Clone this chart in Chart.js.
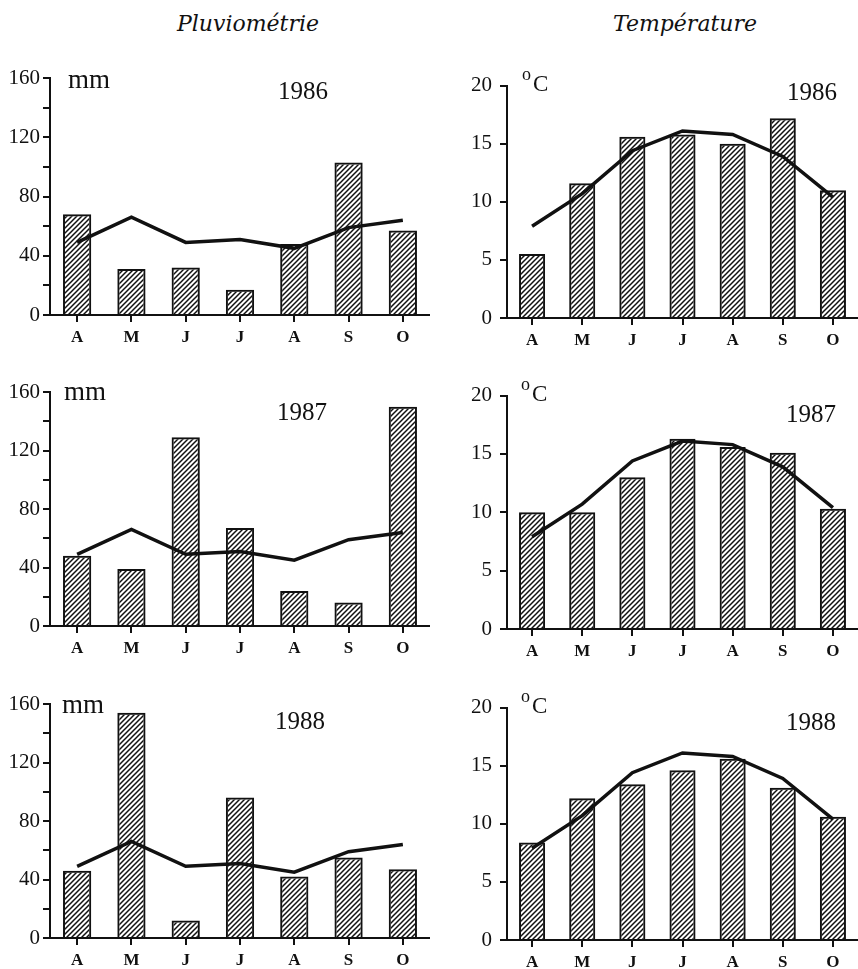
<!DOCTYPE html>
<html>
<head>
<meta charset="utf-8">
<script src="https://cdn.jsdelivr.net/npm/chart.js@4.4.1/dist/chart.umd.min.js"></script>
<style>
  body { margin: 0; background: #fff; width: 858px; height: 969px; position: relative; overflow: hidden; }
  .panel { position: absolute; }
  .title { position: absolute; top: 11px; width: 220px; text-align: center;
           font-family: "DejaVu Serif", serif; font-style: italic; font-size: 22px; color: #111; }
</style>
</head>
<body>
<div class="title" style="left:138px">Pluviométrie</div>
<div class="title" style="left:575px">Température</div>

<script>
// Data
const months = ["A", "M", "J", "J", "A", "S", "O"];
const years = ["1986", "1987", "1988"];

const rain1986 = [68, 31, 32, 17, 48, 103, 57];
const rain1987 = [48, 39, 129, 67, 24, 16, 150];
const rain1988 = [46, 154, 12, 96, 42, 55, 47];
const rainMean = [49, 66, 49, 51, 45, 59, 64];

const temp1986 = [5.5, 11.6, 15.6, 15.8, 15.0, 17.2, 11.0];
const temp1987 = [10.0, 10.0, 13.0, 16.3, 15.6, 15.1, 10.3];
const temp1988 = [8.4, 12.2, 13.4, 14.6, 15.6, 13.1, 10.6];
const tempMean = [7.9, 10.7, 14.4, 16.1, 15.8, 13.9, 10.4];

const rainTicks = { max: 160, step: 20, labelEvery: 40 };
const tempTicks = { max: 20, step: 5, labelEvery: 5 };

// Panel placement: yTop = pixel of axis max, yZero = pixel of 0
const panels = [
    { bars: rain1986, mean: rainMean, kind: "rain", year: years[0], left: 0,   width: 430, yTop: 78,  yZero: 315, unitDx: 18, unitDy: 3,  yearDx: 228, yearDy: 14 },
    { bars: temp1986, mean: tempMean, kind: "temp", year: years[0], left: 430, width: 428, yTop: 85,  yZero: 318, unitDx: 15, unitDy: -2, yearDx: 280, yearDy: 8 },
    { bars: rain1987, mean: rainMean, kind: "rain", year: years[1], left: 0,   width: 430, yTop: 392, yZero: 626, unitDx: 14, unitDy: 1,  yearDx: 227, yearDy: 21 },
    { bars: temp1987, mean: tempMean, kind: "temp", year: years[1], left: 430, width: 428, yTop: 395, yZero: 629, unitDx: 14, unitDy: -2, yearDx: 279, yearDy: 20 },
    { bars: rain1988, mean: rainMean, kind: "rain", year: years[2], left: 0,   width: 430, yTop: 704, yZero: 938, unitDx: 12, unitDy: 2,  yearDx: 225, yearDy: 18 },
    { bars: temp1988, mean: tempMean, kind: "temp", year: years[2], left: 430, width: 428, yTop: 707, yZero: 940, unitDx: 14, unitDy: -2, yearDx: 279, yearDy: 16 },
];

const TOP_PAD = 20;
const X_AXIS_H = 38;
const INK = "#111";
const serif = "'Liberation Serif', 'Times New Roman', serif";

// Diagonal hatching for the bars
function makeHatch() {
    const s = 5;
    const c = document.createElement("canvas");
    c.width = s; c.height = s;
    const g = c.getContext("2d");
    g.strokeStyle = INK;
    g.lineWidth = 1.5;
    g.beginPath();
    g.moveTo(0, s); g.lineTo(s, 0);
    g.moveTo(-1, 1); g.lineTo(1, -1);
    g.moveTo(s - 1, s + 1); g.lineTo(s + 1, s - 1);
    g.stroke();
    return g.createPattern(c, "repeat");
}
const hatch = makeHatch();

// Unit and year labels
const labelsPlugin = {
    id: "panelLabels",
    afterDraw(chart) {
        const p = chart.options.plugins.panelLabels;
        const { ctx, chartArea } = chart;
        ctx.save();
        ctx.fillStyle = INK;
        ctx.textBaseline = "middle";
        ctx.textAlign = "left";
        const ux = chartArea.left + p.unitDx;
        const uy = chartArea.top + p.unitDy;
        if (p.kind === "rain") {
            ctx.font = "27px " + serif;
            ctx.fillText("mm", ux, uy);
        } else {
            ctx.font = "18px " + serif;
            ctx.fillText("o", ux, uy - 8);
            ctx.font = "23px " + serif;
            ctx.fillText("C", ux + 11, uy + 1);
        }
        ctx.font = "25px " + serif;
        ctx.fillText(p.year, chartArea.left + p.yearDx, chartArea.top + p.yearDy);
        ctx.restore();
    }
};

function makePanel(p) {
    const canvas = document.createElement("canvas");
    const h = (p.yZero - p.yTop) + TOP_PAD + X_AXIS_H;
    canvas.className = "panel";
    canvas.width = p.width;
    canvas.height = h;
    canvas.style.left = p.left + "px";
    canvas.style.top = (p.yTop - TOP_PAD) + "px";
    canvas.style.width = p.width + "px";
    canvas.style.height = h + "px";
    document.body.appendChild(canvas);

    const t = p.kind === "rain" ? rainTicks : tempTicks;
    const axisW = p.kind === "rain" ? 50 : 77;

    return new Chart(canvas.getContext("2d"), {
        type: "bar",
        data: {
            labels: months,
            datasets: [
                {
                    type: "line",
                    data: p.mean,
                    borderColor: INK,
                    borderWidth: 3.5,
                    pointRadius: 0,
                    tension: 0,
                    order: 0
                },
                {
                    type: "bar",
                    data: p.bars,
                    backgroundColor: hatch,
                    borderColor: INK,
                    borderWidth: 2,
                    borderSkipped: "bottom",
                    barPercentage: 0.52,
                    categoryPercentage: 1,
                    order: 1
                }
            ]
        },
        options: {
            responsive: false,
            animation: false,
            layout: { padding: { top: TOP_PAD, left: 0, right: 0, bottom: 0 } },
            plugins: {
                legend: { display: false },
                tooltip: { enabled: false },
                panelLabels: p
            },
            scales: {
                x: {
                    type: "category",
                    offset: true,
                    border: { display: true, color: INK, width: 2 },
                    grid: { offset: false, drawOnChartArea: false, drawTicks: true, tickLength: 7, color: INK, lineWidth: 2 },
                    ticks: { color: INK, padding: 5, font: { family: serif, size: 17, weight: "bold" } },
                    afterFit(scale) { scale.height = X_AXIS_H; }
                },
                y: {
                    min: 0,
                    max: t.max,
                    border: { display: true, color: INK, width: 2 },
                    grid: { drawOnChartArea: false, drawTicks: true, tickLength: 7, color: INK, lineWidth: 2 },
                    ticks: {
                        stepSize: t.step,
                        color: INK,
                        padding: p.kind === "rain" ? 3 : 8,
                        font: { family: serif, size: 21 },
                        callback: v => (v % t.labelEvery === 0 ? v : "")
                    },
                    afterFit(scale) { scale.width = axisW; }
                }
            }
        },
        plugins: [labelsPlugin]
    });
}

panels.forEach(makePanel);
</script>
</body>
</html>
